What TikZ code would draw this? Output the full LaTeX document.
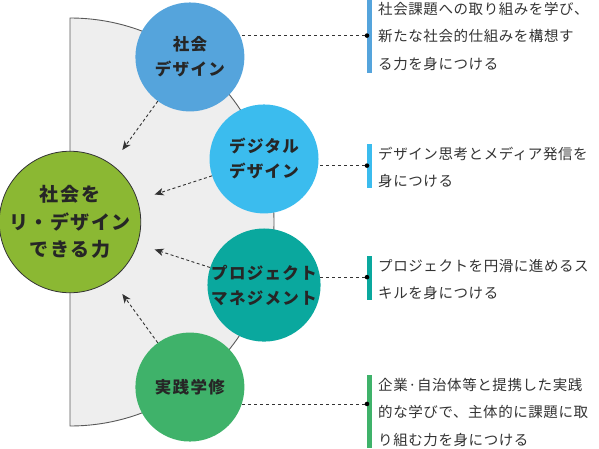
\documentclass[tikz,border=0pt]{standalone}
\usepackage{fontspec}
\setmainfont{Noto Sans CJK JP}[LetterSpace=8]
\newfontfamily\descfont{Noto Sans CJK JP}[LetterSpace=4]
\usepackage{xcolor}
\usepackage{tikz}
\usetikzlibrary{arrows.meta,calc}

\definecolor{cSocial}{HTML}{55A4DC}
\definecolor{cDigital}{HTML}{3BBCEE}
\definecolor{cProject}{HTML}{0AA89E}
\definecolor{cPractice}{HTML}{3FB26A}
\definecolor{cCore}{HTML}{8BB833}
\definecolor{cSector}{HTML}{EEEEEE}
\definecolor{cInk}{HTML}{333333}

\tikzset{
 sector/.style = {fill = cSector, draw = black!65, line width = 0.9pt},
 ball/.style = {circle, minimum size = 109pt, inner sep = 0pt, align = center,
  text = black!85, font = \bfseries\fontsize{16.5}{25}\selectfont},
 core/.style = {circle, minimum size = 136pt, inner sep = 0pt, align = center,
  fill = cCore, draw = cInk, line width = 0.8pt, text = black!85,
  font = \bfseries\fontsize{19}{27.5}\selectfont},
 flow/.style = {draw = cInk, line width = 0.9pt, dash pattern = on 3pt off 2.5pt,
  -{Stealth[length = 9pt, width = 7.5pt, inset = 2.5pt]}},
 lead/.style = {draw = cInk, line width = 0.7pt, dash pattern = on 3pt off 3pt},
 dot/.style = {circle, fill = black, inner sep = 0pt, minimum size = 4.6pt},
 desc/.style = {anchor = west, inner sep = 0pt, align = left, text = cInk,
  font = \descfont\fontsize{14.5}{27.5}\selectfont}
}

\begin{document}
\begin{tikzpicture}[x = 1pt, y = 1pt]

\useasboundingbox (0,0) rectangle (599,448);

\coordinate (O) at (70,226);
\coordinate (X) at (367,0);

\draw[sector] (70,430) arc (90:-90:204) -- cycle;

\node[ball, fill = cSocial] (S) at ($(O)+(54:204pt)$) {社会\\デザイン};
\node[ball, fill = cDigital] (D) at ($(O)+(18:204pt)$) {デジタル\\デザイン};
\node[ball, fill = cProject] (P) at ($(O)+(-18:204pt)$) {プロジェクト\\マネジメント};
\node[ball, fill = cPractice] (J) at ($(O)+(-54:204pt)$) {実践学修};

\node[core] (R) at (O) {社会を\\リ・デザイン\\できる力};

\coordinate (aS) at ($(O)+(54:89pt)$);
\coordinate (aD) at ($(O)+(18:89pt)$);
\coordinate (aP) at ($(O)+(-18:89pt)$);
\coordinate (aJ) at ($(O)+(-54:89pt)$);

\draw[flow] (S) -- (aS);
\draw[flow] (D) -- (aD);
\draw[flow] (P) -- (aP);
\draw[flow] (J) -- (aJ);

\fill[cSocial] (367,448) rectangle (371.5,375);
\fill[cDigital] (367,304) rectangle (371.5,260);
\fill[cProject] (367,192) rectangle (371.5,148);
\fill[cPractice] (367,73) rectangle (371.5,0);

\node[dot] (dS) at (S.23 -| X) {};
\node[dot] (dD) at (D.-7 -| X) {};
\node[dot] (dP) at (P.8 -| X) {};
\node[dot] (dJ) at (J.-18 -| X) {};

\draw[lead] (dS) -- (S.23);
\draw[lead] (dD) -- (D.-7);
\draw[lead] (dP) -- (P.8);
\draw[lead] (dJ) -- (J.-18);

\node[desc] (tS) at (378,412) {社会課題への取り組みを学び、\\新たな社会的仕組みを構想す\\る力を身につける};
\node[desc] (tD) at (378,280.5) {デザイン思考とメディア発信を\\身につける};
\node[desc] (tP) at (378,168.5) {プロジェクトを円滑に進めるス\\キルを身につける};
\node[desc] (tJ) at (378,36) {企業·自治体等と提携した実践\\的な学びで、主体的に課題に取\\り組む力を身につける};

\end{tikzpicture}
\end{document}
